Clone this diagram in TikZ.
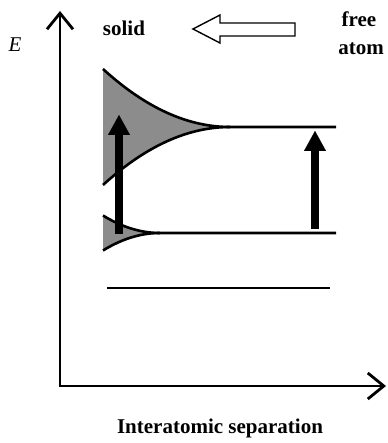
\documentclass[tikz,border=0pt]{standalone}
\usepackage{fontspec}
\setmainfont{Liberation Serif}
\usepackage{tikz}
\usetikzlibrary{arrows.meta}
\tikzset{
  axis/.style={line width=2.8pt, line cap=rect, -{Straight Barb[length=16pt, width=26pt]}},
  level/.style={line width=2.6pt},
  bandfill/.style={fill=black!45},
  jump/.style={line width=8pt, -{Triangle[length=20pt, width=22pt, line width=0.1pt]}},
  bold/.style={font=\bfseries\fontsize{21}{23}\selectfont},
}

\begin{document}
\begin{tikzpicture}[x=1pt, y=-1pt]
  \useasboundingbox (0,0) rectangle (387,443);
  % axes
  \coordinate (origin) at (60,386);
  \coordinate (etop) at (60,11);
  \coordinate (rend) at (386,386);
  \draw[axis] (origin) -- (etop);
  \draw[axis] (origin) -- (rend);
  \node[font=\itshape\fontsize{21}{23}\selectfont] (elabel) at (15,45) {E};
  \node[bold, anchor=base] (sep) at (220,433) {Interatomic separation};
  % upper band
  \fill[bandfill] plot[domain=103:230, samples=60] (\x, {127-58*(1-(\x-103)/127)^2})
    -- plot[domain=230:103, samples=60] (\x, {127+58*(1-(\x-103)/127)^2}) -- cycle;
  \draw[level] plot[domain=103:230, samples=60] (\x, {127-58*(1-(\x-103)/127)^2}) -- (336,127);
  \draw[level] plot[domain=103:230, samples=60] (\x, {127+58*(1-(\x-103)/127)^2});
  % lower band
  \fill[bandfill] plot[domain=103:160, samples=40] (\x, {233-17.5*(1-(\x-103)/57)^2})
    -- plot[domain=160:103, samples=40] (\x, {233+17.5*(1-(\x-103)/57)^2}) -- cycle;
  \draw[level] plot[domain=103:160, samples=40] (\x, {233-17.5*(1-(\x-103)/57)^2}) -- (336,233);
  \draw[level] plot[domain=103:160, samples=40] (\x, {233+17.5*(1-(\x-103)/57)^2});
  % core level
  \coordinate (core0) at (107,288);
  \coordinate (core1) at (330,288);
  \draw[level] (core0) -- (core1);
  % transitions
  \coordinate (lfrom) at (119,234);
  \coordinate (lto) at (119,115);
  \coordinate (rfrom) at (315,229);
  \coordinate (rto) at (315,131);
  \draw[jump] (lfrom) -- (lto);
  \draw[jump] (rfrom) -- (rto);
  % solid <- free atom
  \node[bold, anchor=base] (solid) at (124,36) {solid};
  \node[bold, anchor=base] (free) at (359,27) {free};
  \node[bold, anchor=base] (atom) at (361,55) {atom};
  \draw[line width=1.4pt, fill=white] (193,29) -- (220,15) -- (220,23) -- (295,23)
    -- (295,36) -- (220,36) -- (220,43) -- cycle;
\end{tikzpicture}
\end{document}
